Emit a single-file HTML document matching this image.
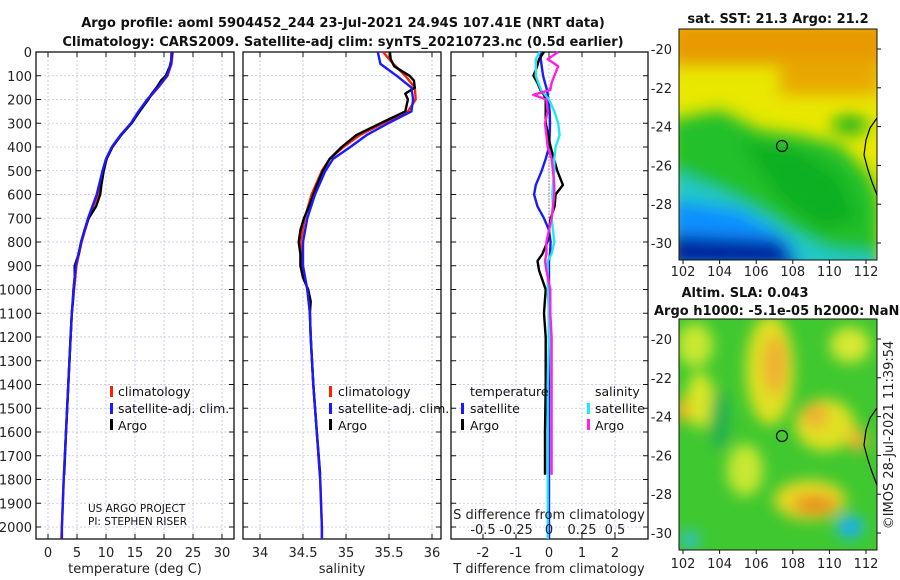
<!DOCTYPE html>
<html><head><meta charset="utf-8"><style>
html,body{margin:0;padding:0;background:#fff;}
svg{display:block;font-family:"DejaVu Sans","Liberation Sans",sans-serif;}
.t{font-size:13px;fill:#222;}
.b{font-weight:bold;font-size:13px;fill:#111;}
.lg{font-size:12.5px;fill:#111;}
</style></head><body>
<svg id="chart" width="900" height="580" viewBox="0 0 900 580">
<defs>
<filter id="bl1" x="-20%" y="-20%" width="140%" height="140%"><feGaussianBlur stdDeviation="8"/></filter>
<filter id="bl2" x="-20%" y="-20%" width="140%" height="140%"><feGaussianBlur stdDeviation="7"/></filter>
<clipPath id="cm1"><rect x="679" y="29" width="198" height="231"/></clipPath>
<clipPath id="cm2"><rect x="679" y="319" width="198" height="231"/></clipPath>
</defs>
<text class="b" x="343" y="27" text-anchor="middle">Argo profile: aoml 5904452_244 23-Jul-2021 24.94S 107.41E (NRT data)</text>
<text class="b" x="343" y="46" text-anchor="middle">Climatology: CARS2009. Satellite-adj clim: synTS_20210723.nc (0.5d earlier)</text>

<g id="p1"></g>
<g id="p2"></g>
<g id="p3"></g>

<!-- SST map -->
<g clip-path="url(#cm1)">
<rect x="679" y="29" width="198" height="231" fill="#e8e800"/>
<g filter="url(#bl1)">
<rect x="670" y="20" width="220" height="45" fill="#e89a00"/>
<rect x="780" y="60" width="100" height="35" fill="#e8a800"/>
<path d="M670 120 L720 110 L760 130 L800 135 L840 145 L870 175 L880 200 L880 280 L670 280 Z" fill="#22c02a"/>
<path d="M670 170 L720 190 L760 210 L790 230 L830 250 L880 255 L880 290 L670 290 Z" fill="#20c8c8"/>
<path d="M670 200 L740 210 L790 240 L800 270 L670 270 Z" fill="#1090ff"/>
<path d="M670 235 L780 240 L800 270 L670 270 Z" fill="#0020a0"/>
<path d="M740 140 L800 150 L840 175 L860 220 L820 230 L780 200 Z" fill="#10b020"/>
<ellipse cx="850" cy="125" rx="18" ry="9" fill="#10b020"/>
</g>
</g>
<rect x="679" y="29" width="198" height="231" fill="none" stroke="#111" stroke-width="1"/>
<path d="M877 118 L870 128 L866 140 L864 155 L868 170 L872 182 L877 195" fill="none" stroke="#000" stroke-width="1.2"/>
<circle cx="782" cy="146" r="5.5" fill="none" stroke="#000" stroke-width="1.2"/>
<text class="b" x="778" y="23" text-anchor="middle">sat. SST: 21.3 Argo: 21.2</text>

<!-- SLA map -->
<g clip-path="url(#cm2)">
<rect x="679" y="319" width="198" height="231" fill="#40c830"/>
<g filter="url(#bl2)">
<ellipse cx="695" cy="345" rx="18" ry="22" fill="#c8e830"/>
<ellipse cx="700" cy="400" rx="14" ry="28" fill="#d8e828"/>
<ellipse cx="683" cy="410" rx="8" ry="12" fill="#f0b020"/>
<ellipse cx="770" cy="370" rx="24" ry="55" fill="#e0e020"/>
<ellipse cx="775" cy="365" rx="12" ry="30" fill="#f0b030"/>
<ellipse cx="850" cy="345" rx="20" ry="18" fill="#d8e830"/>
<ellipse cx="825" cy="425" rx="30" ry="26" fill="#e0e020"/>
<ellipse cx="815" cy="415" rx="13" ry="13" fill="#f0b030"/>
<ellipse cx="858" cy="440" rx="9" ry="12" fill="#f0b030"/>
<ellipse cx="810" cy="500" rx="36" ry="20" fill="#e8d820"/>
<ellipse cx="815" cy="505" rx="22" ry="10" fill="#e89020"/>
<ellipse cx="745" cy="470" rx="18" ry="26" fill="#c8e830"/>
<ellipse cx="720" cy="420" rx="10" ry="30" fill="#20b050"/>
<ellipse cx="850" cy="527" rx="14" ry="12" fill="#20c0e0"/>
<ellipse cx="850" cy="527" rx="6" ry="5" fill="#1080ff"/>
<ellipse cx="690" cy="540" rx="10" ry="10" fill="#30c0c0"/>
</g>
</g>
<rect x="679" y="319" width="198" height="231" fill="none" stroke="#111" stroke-width="1"/>
<path d="M877 408 L870 418 L866 430 L864 445 L868 460 L872 472 L877 485" fill="none" stroke="#000" stroke-width="1.2"/>
<circle cx="782" cy="436" r="5.5" fill="none" stroke="#000" stroke-width="1.2"/>
<text class="b" x="745" y="297" text-anchor="middle">Altim. SLA: 0.043</text>
<text class="b" x="654" y="315">Argo h1000: -5.1e-05 h2000: NaN</text>
<text class="t" x="0" y="0" transform="translate(893,435) rotate(-90)" text-anchor="middle">©IMOS 28-Jul-2021 11:39:54</text>
<g id="maps"></g>
</svg>
<script>
// ---- data ----
const depthTick = [0,100,200,300,400,500,600,700,800,900,1000,1100,1200,1300,1400,1500,1600,1700,1800,1900,2000];
const tTicks = [0,5,10,15,20,25,30];
const sTicks = [34,34.5,35,35.5,36];
const sTickLabels = ['34','34.5','35','35.5','36'];
const dTicks = [-2,-1,0,1,2];
const dTickLabels = ['-2','-1','0','1','2'];
const sdTicks = [-0.5,-0.25,0,0.25,0.5];
const sdTickLabels = ['-0.5','-0.25','0','0.25','0.5'];

const climDepth = [0,50,100,150,200,250,300,350,400,450,500,600,700,800,900,1000,1100,1200,1400,1600,1800,2000,2050];
const tClim = [21.5,21.3,20.6,19.0,17.2,15.7,14.4,12.6,11.1,10.1,9.5,8.6,7.0,5.8,4.9,4.5,4.1,3.9,3.5,3.1,2.7,2.4,2.3];
const tSat  = [21.3,21.2,20.5,18.9,17.1,15.6,14.3,12.5,11.0,10.0,9.4,8.4,6.9,5.7,4.8,4.4,4.1,3.9,3.5,3.1,2.7,2.4,2.4];
const sClim = [35.43,35.55,35.69,35.80,35.81,35.72,35.43,35.16,34.97,34.81,34.72,34.60,34.52,34.47,34.49,34.55,34.58,34.59,34.62,34.66,34.70,34.72,34.72];
const sSat  = [35.37,35.40,35.59,35.76,35.78,35.76,35.49,35.24,35.05,34.85,34.76,34.64,34.55,34.50,34.50,34.55,34.58,34.59,34.62,34.66,34.70,34.72,34.72];

const argoDepth = [0,30,60,100,120,150,175,200,250,300,350,400,450,500,560,600,650,700,750,800,850,900,950,1000,1050,1100,1200,1400,1600,1780];
const tArgo = [21.4,21.3,21.0,20.3,19.5,18.7,17.9,17.3,15.8,14.4,12.6,11.1,10.1,9.6,9.2,9.0,8.3,7.0,6.3,5.7,5.3,4.6,4.6,4.4,4.3,4.1,3.9,3.5,3.1,2.8];
const sArgo = [35.51,35.52,35.56,35.74,35.79,35.80,35.69,35.72,35.69,35.40,35.12,34.95,34.81,34.73,34.66,34.62,34.57,34.51,34.47,34.45,34.47,34.47,34.50,34.56,34.59,34.58,34.59,34.62,34.66,34.70];

const diffDepth = [0,30,60,100,130,160,180,200,250,300,350,400,450,500,560,600,650,700,750,800,850,880,920,1000,1100,1200,1400,1600,1780,2050];
const dTSat  = [-0.27,-0.25,-0.22,-0.18,-0.12,-0.06,-0.04,-0.02,0.02,0.03,0.02,0.0,-0.1,-0.22,-0.40,-0.45,-0.35,-0.15,0.0,0.05,0.03,0.0,0.0,0.0,0.0,0.0,0.0,0.0,0.0,0.0];
const dTArgo = [-0.15,-0.3,-0.36,-0.47,-0.35,-0.26,-0.15,-0.1,-0.1,-0.1,-0.02,0.05,0.15,0.25,0.42,0.2,0.17,0.05,0.0,-0.05,-0.2,-0.35,-0.3,-0.1,-0.15,-0.1,-0.1,-0.12,-0.12,null];
const dSSat  = [-0.07,-0.1,-0.1,-0.1,-0.08,-0.06,-0.03,0.0,0.04,0.07,0.08,0.05,0.04,0.04,0.03,0.025,0.03,0.02,0.03,0.04,0.02,-0.01,-0.01,-0.01,0.0,0.0,-0.01,-0.01,-0.01,-0.01];
const dSArgo = [0.07,-0.01,0.07,0.04,0.02,0.01,-0.12,-0.02,-0.01,-0.03,-0.02,-0.01,0.02,0.03,0.04,0.04,0.03,0.02,0.0,-0.02,-0.02,-0.03,-0.02,0.01,0.01,0.02,0.02,0.02,0.02,null];

const lonTicks = [102,104,106,108,110,112];
const latTicks = [-20,-22,-24,-26,-28,-30];

// ---- helpers ----
const NS='http://www.w3.org/2000/svg';
const Y0=52, YPX=0.2375, YTOP=52, YBOT=539;
const yS = d => Y0 + d*YPX;
function mk(tag, attrs, parent){const e=document.createElementNS(NS,tag);for(const k in attrs)e.setAttribute(k,attrs[k]);parent.appendChild(e);return e;}

function panel(g, x0, x1, xf, ticks, labels, showY, name){
  ticks.forEach(v=>{
    const l=mk('line',{x1:xf(v),x2:xf(v),y1:YTOP,y2:YBOT,stroke:'#b8c4ee','stroke-width':0.8,'stroke-dasharray':'2,2'},g);
    
    
  });
  depthTick.forEach(d=>{
    const l=mk('line',{x1:x0,x2:x1,y1:yS(d),y2:yS(d),stroke:'#b8c4ee','stroke-width':0.8,'stroke-dasharray':'2,2'},g);
    
    
    const tl=mk('line',{x1:x0,x2:x0+5,y1:yS(d),y2:yS(d),stroke:'#111'},g);
    
    
    const tr=mk('line',{x1:x1-5,x2:x1,y1:yS(d),y2:yS(d),stroke:'#111'},g);
    
    
    if(showY){
      const t=mk('text',{x:x0-4,y:yS(d)+5,'text-anchor':'end',class:'t'},g);
      t.textContent=d;
      
      
    }
  });
  ticks.forEach((v,i)=>{
    const tb=mk('line',{x1:xf(v),x2:xf(v),y1:YBOT-5,y2:YBOT,stroke:'#111'},g);
    
    
    const tt=mk('line',{x1:xf(v),x2:xf(v),y1:YTOP,y2:YTOP+5,stroke:'#111'},g);
    
    
    const t=mk('text',{x:xf(v),y:557,'text-anchor':'middle',class:'t'},g);
    t.textContent=labels[i];
    
    
  });
  const fr=mk('rect',{x:x0,y:YTOP,width:x1-x0,height:YBOT-YTOP,fill:'none',stroke:'#111','stroke-width':1.3},g);
  
  
}
function line(g, xs, ds, xf, color, w, name){
  let d='', pen=false;
  for(let i=0;i<xs.length;i++){
    if(xs[i]===null||xs[i]===undefined){pen=false;continue;}
    d+=(pen?'L':'M')+xf(xs[i]).toFixed(1)+' '+yS(ds[i]).toFixed(1)+' ';pen=true;
  }
  const p=mk('path',{d:d,fill:'none',stroke:color,'stroke-width':w,'stroke-linejoin':'round'},g);
  
  
}
function txt(g,x,y,s,anchor,cls,name){
  const t=mk('text',{x:x,y:y,'text-anchor':anchor||'start',class:cls||'lg'},g);
  t.textContent=s;
  
  
  return t;
}
function mark(g,x,y,color,name){
  const r=mk('rect',{x:x,y:y-10,width:3,height:11,fill:color},g);
  
  
}

// ---- panel 1 ----
const p1=document.getElementById('p1');
const xT = v => 48 + v*5.8;
panel(p1,36,234,xT,tTicks,tTicks.map(String),true,'temperature');
line(p1,tClim,climDepth,xT,'#ff2000',2.4,'temperature-climatology-line');
line(p1,tArgo,argoDepth,xT,'#000',2.4,'temperature-argo-line');
line(p1,tSat,climDepth,xT,'#1a1aff',2.4,'temperature-satellite-line');
txt(p1,135,573,'temperature (deg C)','middle','t','temperature-axis-title');
mark(p1,110,396,'#ff2000','legend-climatology-marker');
txt(p1,118,396,'climatology','start','lg','legend-climatology');
mark(p1,110,413,'#1a1aff','legend-satellite-marker');
txt(p1,118,413,'satellite-adj. clim.','start','lg','legend-satellite');
mark(p1,110,429,'#000','legend-argo-marker');
txt(p1,118,430,'Argo','start','lg','legend-argo');
txt(p1,88,512,'US ARGO PROJECT','start','lg','project-label').setAttribute('style','font-size:10.5px');
txt(p1,88,525,'PI: STEPHEN RISER','start','lg','pi-label').setAttribute('style','font-size:10.5px');

// ---- panel 2 ----
const p2=document.getElementById('p2');
const xS = v => 260 + (v-34)*86;
panel(p2,243,441,xS,sTicks,sTickLabels,false,'salinity');
line(p2,sClim,climDepth,xS,'#ff2000',2.4,'salinity-climatology-line');
line(p2,sArgo,argoDepth,xS,'#000',2.4,'salinity-argo-line');
line(p2,sSat,climDepth,xS,'#1a1aff',2.4,'salinity-satellite-line');
txt(p2,342,573,'salinity','middle','t','salinity-axis-title');
mark(p2,329,396,'#ff2000','legend2-climatology-marker');
txt(p2,338,396,'climatology','start','lg','legend2-climatology');
mark(p2,329,413,'#1a1aff','legend2-satellite-marker');
txt(p2,338,413,'satellite-adj. clim.','start','lg','legend2-satellite');
mark(p2,329,429,'#000','legend2-argo-marker');
txt(p2,338,430,'Argo','start','lg','legend2-argo');

// ---- panel 3 ----
const p3=document.getElementById('p3');
const xD = v => 549 + v*33;
const xSD = v => 549 + v*4*33;
panel(p3,451,648,xD,dTicks,dTickLabels,false,'difference');
const z=mk('line',{x1:xD(0),x2:xD(0),y1:yS(150),y2:yS(750),stroke:'#444','stroke-dasharray':'1,2'},p3);


line(p3,dTSat,diffDepth,xD,'#1a1aff',2.4,'t-diff-satellite-line');
line(p3,dTArgo,diffDepth,xD,'#000',2.4,'t-diff-argo-line');
line(p3,dSSat,diffDepth,xSD,'#20e8f0',2.4,'s-diff-satellite-line');
line(p3,dSArgo,diffDepth,xSD,'#ff20e0',2.4,'s-diff-argo-line');
txt(p3,549,573,'T difference from climatology','middle','t','t-diff-axis-title');
txt(p3,549,519,'S difference from climatology','middle','t','s-diff-axis-title');
sdTicks.forEach((v,i)=>{txt(p3,xSD(v),534,sdTickLabels[i],'middle','t','s-diff-tick-label');});
txt(p3,470,396,'temperature','start','lg','legend3-temperature-heading');
mark(p3,461,413,'#1a1aff','legend3-t-satellite-marker');
txt(p3,470,413,'satellite','start','lg','legend3-t-satellite');
mark(p3,461,429,'#000','legend3-t-argo-marker');
txt(p3,470,430,'Argo','start','lg','legend3-t-argo');
txt(p3,595,396,'salinity','start','lg','legend3-salinity-heading');
mark(p3,587,413,'#20e8f0','legend3-s-satellite-marker');
txt(p3,595,413,'satellite','start','lg','legend3-s-satellite');
mark(p3,587,429,'#ff20e0','legend3-s-argo-marker');
txt(p3,595,430,'Argo','start','lg','legend3-s-argo');

// ---- map ticks ----
const mg=document.getElementById('maps');
const lonX = v => 683 + (v-102)*18.3;
[[49,276,29,260],[339,568,319,550]].forEach((m,mi)=>{
  const latY = v => m[0] + (-20 - v)*19.4;
  latTicks.forEach(v=>{
    txt(mg,672,latY(v)+5,String(v),'end','t','map-lat-label');
    const a=mk('line',{x1:877,x2:881,y1:latY(v),y2:latY(v),stroke:'#111'},mg);
    
    
  });
  lonTicks.forEach(v=>{
    txt(mg,lonX(v),m[1],String(v),'middle','t','map-lon-label');
    const a=mk('line',{x1:lonX(v),x2:lonX(v),y1:m[3],y2:m[3]+4,stroke:'#111'},mg);
    
    
  });
});
</script>
</body></html>
